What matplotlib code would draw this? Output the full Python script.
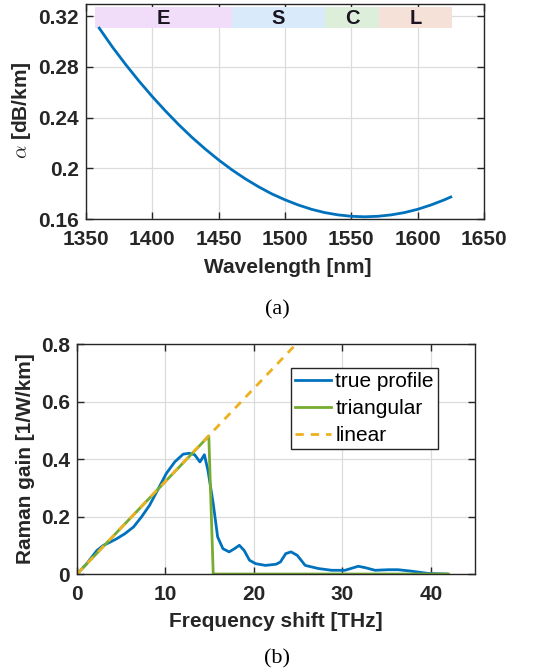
import numpy as np
import matplotlib
matplotlib.use("Agg")
import matplotlib.pyplot as plt

plt.rcParams['font.family'] = ['Liberation Sans', 'DejaVu Sans']
plt.rcParams['mathtext.fontset'] = 'cm'

# (a) attenuation vs wavelength
wl = [1360, 1370, 1380, 1390, 1400, 1410, 1420, 1430, 1440, 1450, 1460, 1470,
      1480, 1490, 1500, 1510, 1520, 1530, 1540, 1550, 1560, 1570, 1580, 1590,
      1600, 1610, 1620, 1625]
alpha = [0.3105, 0.2955, 0.2817, 0.2687, 0.2565, 0.2451, 0.2343, 0.2243,
         0.2151, 0.2066, 0.1988, 0.1918, 0.1855, 0.1799, 0.1752, 0.1711,
         0.1677, 0.1651, 0.1633, 0.1622, 0.1618, 0.1622, 0.1633, 0.1651,
         0.1677, 0.1711, 0.1751, 0.1774]
band_names = ['E', 'S', 'C', 'L']
band_lo = [1357, 1460, 1530, 1571]
band_hi = [1460, 1530, 1571, 1626]
band_cols = ['#f1ddfa', '#d9ebfa', '#ddeeda', '#f6e1d8']

# (b) Raman gain vs frequency shift
f_true = [0, 1.1, 2.25, 3.0, 3.75, 4.5, 5.4, 6.4, 7.3, 8.2, 9.2, 10.1, 11.05,
          12.0, 12.7, 13.3, 13.9, 14.4, 14.8, 15.4, 15.9, 16.5, 17.2, 17.8,
          18.35, 18.9, 19.5, 20.2, 21.3, 22.5, 23.0, 23.6, 24.2, 24.9, 25.8,
          27.3, 28.8, 30.3, 31.8, 32.6, 33.7, 35.2, 36.3, 37.8, 39.7, 41.8]
g_true = [0, 0.036, 0.082, 0.1, 0.111, 0.123, 0.14, 0.164, 0.199, 0.239,
          0.297, 0.35, 0.39, 0.417, 0.42, 0.415, 0.39, 0.415, 0.361, 0.245,
          0.129, 0.088, 0.077, 0.088, 0.1, 0.082, 0.048, 0.036, 0.03, 0.034,
          0.042, 0.071, 0.077, 0.065, 0.03, 0.019, 0.013, 0.013, 0.027,
          0.022, 0.013, 0.015, 0.015, 0.01, 0.002, 0.0]
f_tri = [0, 14.9, 15.4, 42]
g_tri = [0, 0.48, 0, 0]
f_lin = [0, 26]
g_lin = [0, 0.8395]

blue = '#0072bd'
green = '#77ac30'
orange = '#edb120'
axc = '#262626'

fig = plt.figure(figsize=(5.45, 6.72), dpi=100)


def style(ax):
    ax.grid(True, color='#dcdcdc', lw=0.9)
    ax.set_axisbelow(True)
    ax.tick_params(direction='in', top=True, right=True, length=5,
                   width=1, colors=axc, labelsize=15)
    ax.tick_params(axis='x', pad=8)
    ax.tick_params(axis='y', pad=5)
    for lab in ax.get_xticklabels() + ax.get_yticklabels():
        lab.set_fontweight('bold')
    for s in ax.spines.values():
        s.set_color(axc)
        s.set_linewidth(1.0)


ax1 = fig.add_axes([0.1578, 0.674, 0.7302, 0.32])
for name, lo, hi, c in zip(band_names, band_lo, band_hi, band_cols):
    ax1.fill_between([lo, hi], 0.3105, 0.3272, color=c, lw=0, zorder=1)
    ax1.text((lo + hi) / 2, 0.3178, name, ha='center', va='center',
             fontsize=14.5, fontweight='bold', color='#1a1420', zorder=3)
ax1.plot(wl, alpha, color=blue, lw=2, zorder=2)
ax1.set_xlim(1350, 1650)
ax1.set_ylim(0.16, 0.3295)
ax1.set_xticks([1350, 1400, 1450, 1500, 1550, 1600, 1650])
ax1.set_yticks([0.16, 0.2, 0.24, 0.28, 0.32])
ax1.set_yticklabels(['0.16', '0.2', '0.24', '0.28', '0.32'])
style(ax1)
ax1.set_xlabel('Wavelength [nm]', fontsize=15, fontweight='bold', color=axc)
ax1.set_ylabel(r'$\alpha$ [dB/km]', fontsize=15, fontweight='bold', color=axc)
ax1.xaxis.set_label_coords(0.506, -0.181)
ax1.yaxis.set_label_coords(-0.133, 0.505)
fig.text(0.509, 0.539, '(a)', ha='center', va='center', fontsize=16,
         family='Liberation Serif')

ax2 = fig.add_axes([0.1413, 0.1458, 0.7303, 0.3422])
ax2.plot(f_true, g_true, color=blue, lw=2, label='true profile')
ax2.plot(f_tri, g_tri, color=green, lw=2, label='triangular')
ax2.plot(f_lin, g_lin, color=orange, lw=2, ls=(0, (3, 2.5)), label='linear')
ax2.set_xlim(0, 45)
ax2.set_ylim(0, 0.8)
ax2.set_xticks([0, 10, 20, 30, 40])
ax2.set_yticks([0, 0.2, 0.4, 0.6, 0.8])
ax2.set_yticklabels(['0', '0.2', '0.4', '0.6', '0.8'])
style(ax2)
ax2.set_xlabel('Frequency shift [THz]', fontsize=15, fontweight='bold',
               color=axc)
ax2.set_ylabel('Raman gain [1/W/km]', fontsize=15, fontweight='bold',
               color=axc)
ax2.xaxis.set_label_coords(0.499, -0.165)
ax2.yaxis.set_label_coords(-0.1055, 0.502)
leg = ax2.legend(loc='upper right', bbox_to_anchor=(0.906, 0.895),
                 fontsize=15, frameon=True, fancybox=False, framealpha=1,
                 edgecolor=axc, handlelength=1.75, handletextpad=0.2,
                 borderpad=0.18, labelspacing=0.38, borderaxespad=0)
leg.get_frame().set_linewidth(1.0)
fig.text(0.509, 0.0193, '(b)', ha='center', va='center', fontsize=16,
         family='Liberation Serif')

fig.savefig('out.png', dpi=100)
